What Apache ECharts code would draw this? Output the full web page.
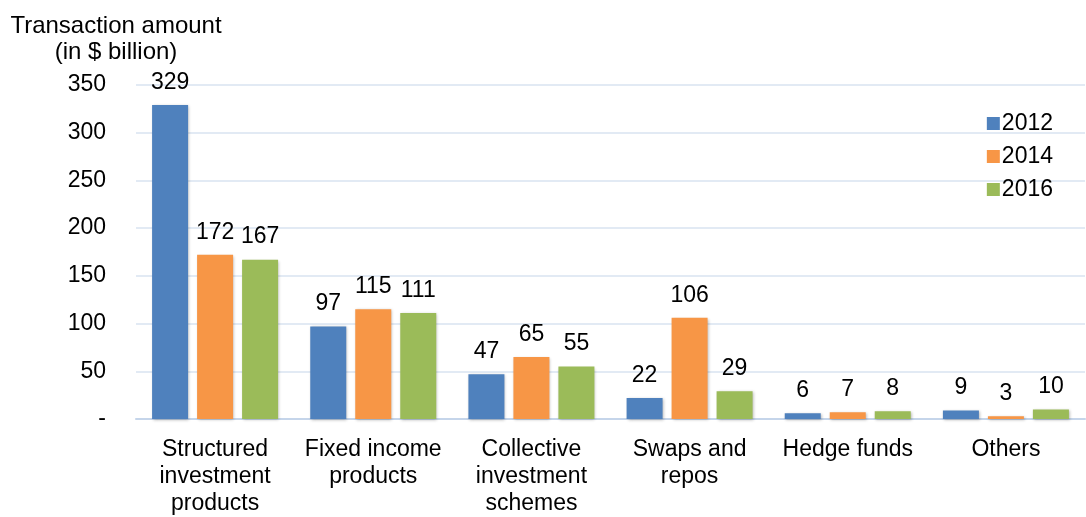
<!DOCTYPE html>
<html>
<head>
<meta charset="utf-8">
<script src="https://cdn.jsdelivr.net/npm/echarts@6/dist/echarts.min.js"></script>
<style>
  html, body { margin: 0; padding: 0; background: #fff; }
  #chart { width: 1086px; height: 517px; }
</style>
</head>
<body>
<div id="chart"></div>
<script>
// Transaction amount by product type (in $ billion)
const categories = [
  'Structured\ninvestment\nproducts',
  'Fixed income\nproducts',
  'Collective\ninvestment\nschemes',
  'Swaps and\nrepos',
  'Hedge funds',
  'Others'
];
const years = ['2012', '2014', '2016'];
const values2012 = [329, 97, 47, 22, 6, 9];
const values2014 = [172, 115, 65, 106, 7, 3];
const values2016 = [167, 111, 55, 29, 8, 10];
const colors = ['#4F81BD', '#F79646', '#9BBB59'];

const FONT = '"Liberation Sans", Arial, sans-serif';
const FS = 23;

function makeSeries(name, data, color) {
  return {
    name: name,
    type: 'bar',
    data: data,
    barWidth: 36,
    barGap: '25%',
    itemStyle: {
      color: color,
      shadowColor: 'rgba(0,0,0,0.28)',
      shadowBlur: 3,
      shadowOffsetX: 1,
      shadowOffsetY: 1
    },
    label: {
      show: true,
      position: 'top',
      distance: 11,
      color: '#000',
      fontFamily: FONT,
      fontSize: FS
    }
  };
}

const chart = echarts.init(document.getElementById('chart'));
chart.setOption({
  animation: false,
  backgroundColor: '#fff',
  textStyle: { fontFamily: FONT },
  grid: { left: 136, right: 1, top: 85, bottom: 94, containLabel: false },
  graphic: [{
    type: 'text',
    x: 116,
    y: 13,
    style: {
      text: 'Transaction amount\n(in $ billion)',
      textAlign: 'center',
      fill: '#000',
      font: '24px ' + FONT,
      lineHeight: 26
    }
  }],
  legend: {
    orient: 'vertical',
    right: 28,
    top: 107,
    itemWidth: 13,
    itemHeight: 13,
    itemGap: 10,
    icon: 'rect',
    textStyle: { fontFamily: FONT, fontSize: FS, color: '#000', padding: [0, 0, 0, -3] },
    data: years
  },
  xAxis: {
    type: 'category',
    data: categories,
    axisLine: { lineStyle: { color: '#C5D5EA', width: 2 } },
    axisTick: { show: false },
    axisLabel: {
      color: '#000',
      fontFamily: FONT,
      fontSize: FS,
      lineHeight: 27,
      margin: 17,
      interval: 0
    }
  },
  yAxis: {
    type: 'value',
    min: 0,
    max: 350,
    interval: 50,
    axisLine: { show: false },
    axisTick: { show: false },
    splitLine: { lineStyle: { color: '#D9E3F0', width: 1.5 } },
    axisLabel: {
      color: '#000',
      fontFamily: FONT,
      fontSize: FS,
      margin: 30,
      formatter: function (v) { return v === 0 ? '-' : String(v); }
    }
  },
  series: [
    makeSeries(years[0], values2012, colors[0]),
    makeSeries(years[1], values2014, colors[1]),
    makeSeries(years[2], values2016, colors[2])
  ]
});
</script>
</body>
</html>
